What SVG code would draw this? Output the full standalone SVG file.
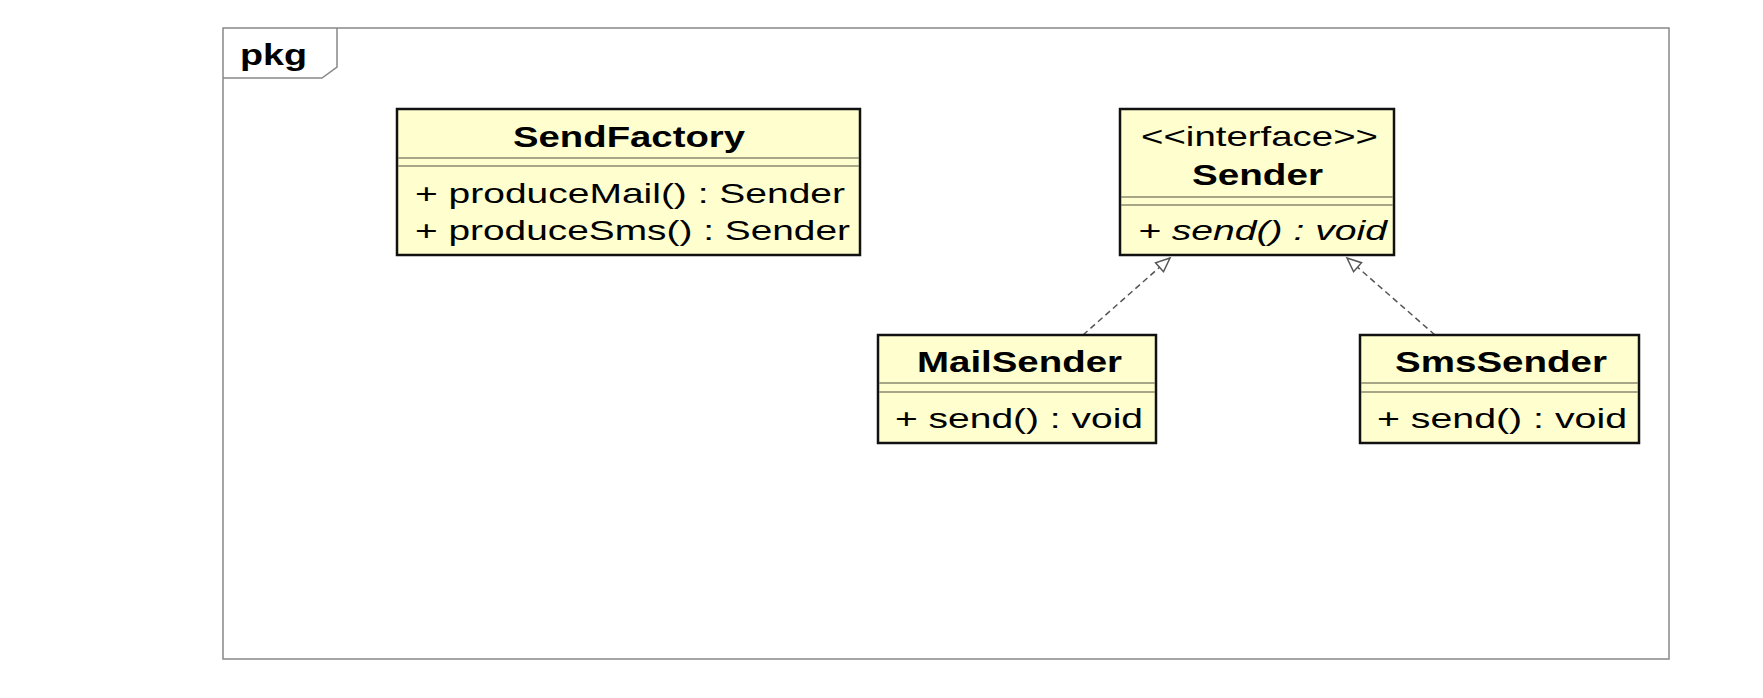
<svg xmlns="http://www.w3.org/2000/svg" width="1763" height="698" viewBox="0 0 1763 698">
<style>
.box{fill:#FEFECE;stroke:#111;stroke-width:2.5}
.div{stroke:#8a8a70;stroke-width:1.5}
.name{font-family:"Liberation Sans",Arial,sans-serif;font-weight:bold;font-size:29px;fill:#000}
.op{font-family:"Liberation Sans",Arial,sans-serif;font-size:28px;fill:#000}
.it{font-style:italic}
.frame{fill:none;stroke:#888;stroke-width:1.5}
.rel{fill:none;stroke:#555;stroke-width:1.5;stroke-dasharray:6 4}
</style>
<defs>
<marker id="tri" markerUnits="userSpaceOnUse" markerWidth="20" markerHeight="20" refX="16" refY="8" orient="auto" viewBox="0 0 20 16">
<path d="M16,8 L2,2 L2,14 Z" fill="#fff" stroke="#555" stroke-width="1.5"/>
</marker>
</defs>
<rect width="1763" height="698" fill="#fff"/>
<g id="package">
<rect class="frame" x="223" y="28" width="1446" height="631"/>
<path class="frame" d="M223,78 L322,78 L337,67 L337,28"/>
<text class="name" x="240" y="65" font-size="27" textLength="67" lengthAdjust="spacingAndGlyphs">pkg</text>
</g>
<g id="connectors">
<line class="rel" x1="1083" y1="335" x2="1170" y2="258" marker-end="url(#tri)"/>
<line class="rel" x1="1435" y1="335" x2="1347" y2="258" marker-end="url(#tri)"/>
</g>
<g id="SendFactory">
<rect class="box" x="397" y="109" width="463" height="146"/>
<line class="div" x1="398" y1="158" x2="859" y2="158"/>
<line class="div" x1="398" y1="166" x2="859" y2="166"/>
<text class="name" x="513" y="147" textLength="232" lengthAdjust="spacingAndGlyphs">SendFactory</text>
<text class="op" x="415" y="203" textLength="430" lengthAdjust="spacingAndGlyphs">+ produceMail() : Sender</text>
<text class="op" x="415" y="240" textLength="435" lengthAdjust="spacingAndGlyphs">+ produceSms() : Sender</text>
</g>
<g id="Sender">
<rect class="box" x="1120" y="109" width="274" height="146"/>
<line class="div" x1="1121" y1="197" x2="1393" y2="197"/>
<line class="div" x1="1121" y1="205" x2="1393" y2="205"/>
<text class="op" x="1141" y="146" textLength="237" lengthAdjust="spacingAndGlyphs">&lt;&lt;interface&gt;&gt;</text>
<text class="name" x="1192" y="185" textLength="131" lengthAdjust="spacingAndGlyphs">Sender</text>
<text class="op it" x="1138" y="240" textLength="249" lengthAdjust="spacingAndGlyphs">+ send() : void</text>
</g>
<g id="MailSender">
<rect class="box" x="878" y="335" width="278" height="108"/>
<line class="div" x1="879" y1="383" x2="1155" y2="383"/>
<line class="div" x1="879" y1="392" x2="1155" y2="392"/>
<text class="name" x="917" y="372" textLength="205" lengthAdjust="spacingAndGlyphs">MailSender</text>
<text class="op" x="895" y="428" textLength="248" lengthAdjust="spacingAndGlyphs">+ send() : void</text>
</g>
<g id="SmsSender">
<rect class="box" x="1360" y="335" width="279" height="108"/>
<line class="div" x1="1361" y1="383" x2="1638" y2="383"/>
<line class="div" x1="1361" y1="392" x2="1638" y2="392"/>
<text class="name" x="1395" y="372" textLength="212" lengthAdjust="spacingAndGlyphs">SmsSender</text>
<text class="op" x="1377" y="428" textLength="250" lengthAdjust="spacingAndGlyphs">+ send() : void</text>
</g>
</svg>
